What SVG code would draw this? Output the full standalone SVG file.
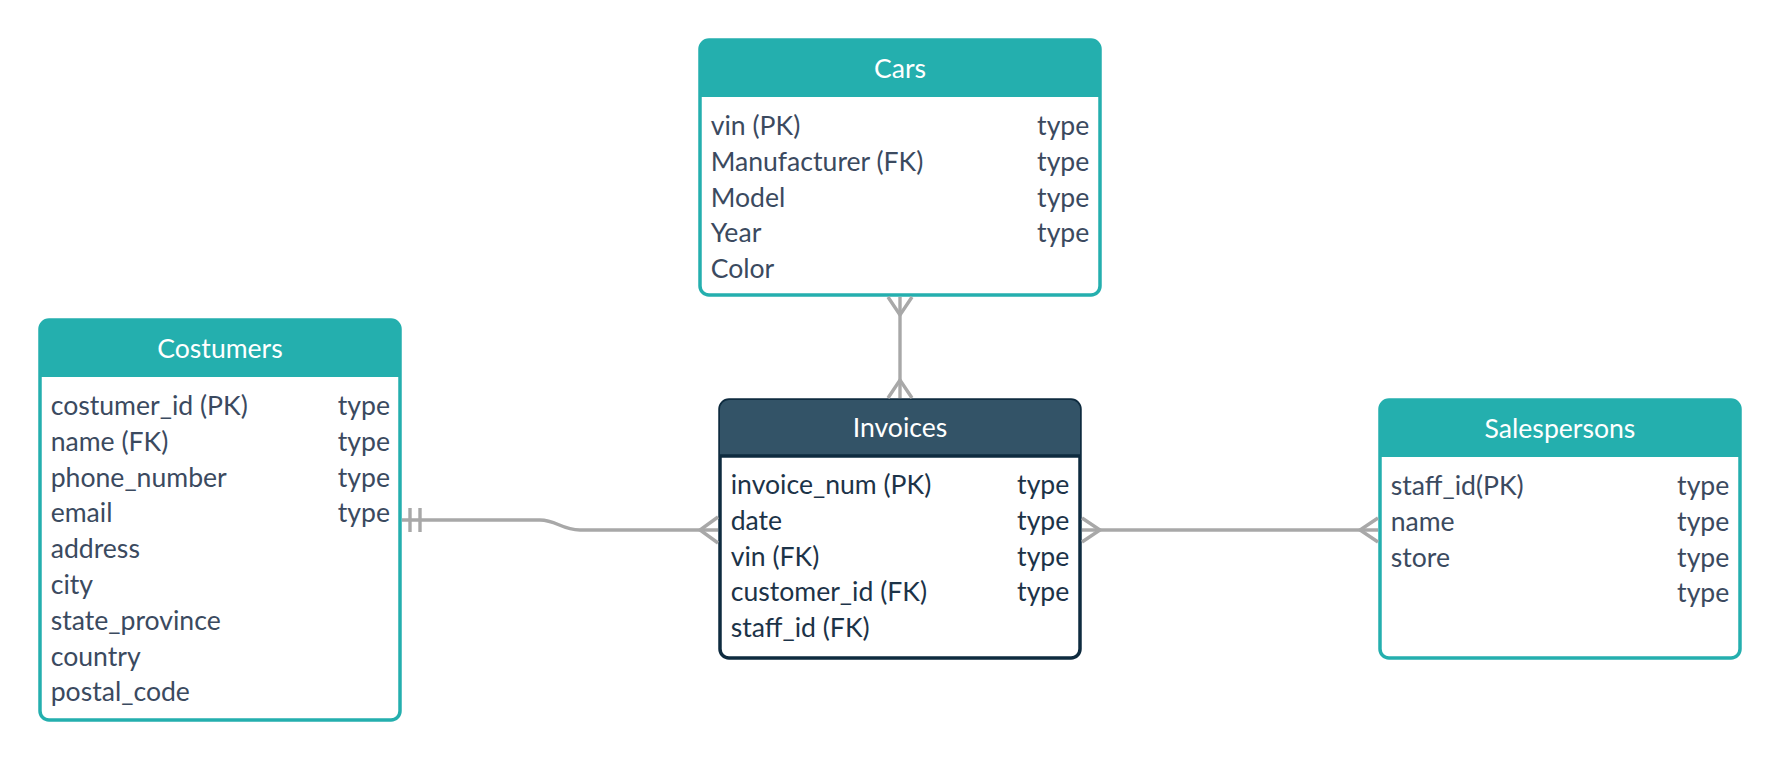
<svg xmlns="http://www.w3.org/2000/svg" width="1780" height="760" viewBox="0 0 1780 760">
<style>
.box{fill:#ffffff;stroke:#24AFAE;stroke-width:3.5}
.hdr{fill:#24AFAE}
.dbox{fill:#ffffff;stroke:#0E2B3F;stroke-width:3.5}
.dhdr{fill:#335367}
.title{font-family:Lato,"Open Sans",sans-serif;font-size:26.6px;fill:#ffffff;text-anchor:middle}
.row{font-family:Lato,"Open Sans",sans-serif;font-size:26.6px;fill:#3B4A5F}
.drow{font-family:Lato,"Open Sans",sans-serif;font-size:26.6px;fill:#1C3348}
.end{text-anchor:end}
.conn{fill:none;stroke:#A8A8A8;stroke-width:3.4;stroke-linecap:butt}
</style>
<rect width="1780" height="760" fill="#ffffff"/>

<g id="cars">
<rect class="box" x="700" y="40" width="400" height="255" rx="9"/>
<path class="hdr" d="M700 97 V49 A9 9 0 0 1 709 40 H1091 A9 9 0 0 1 1100 49 V97 Z"/>
<text class="title" x="900" y="78">Cars</text>
<text class="row" x="710.7" y="135">vin (PK)</text>
<text class="row end" x="1089.3" y="135">type</text>
<text class="row" x="710.7" y="170.8">Manufacturer (FK)</text>
<text class="row end" x="1089.3" y="170.8">type</text>
<text class="row" x="710.7" y="206.6">Model</text>
<text class="row end" x="1089.3" y="206.6">type</text>
<text class="row" x="710.7" y="242.4">Year</text>
<text class="row end" x="1089.3" y="242.4">type</text>
<text class="row" x="710.7" y="278.2">Color</text>
</g>

<g id="costumers">
<rect class="box" x="40" y="320" width="360" height="400" rx="9"/>
<path class="hdr" d="M40 377 V329 A9 9 0 0 1 49 320 H391 A9 9 0 0 1 400 329 V377 Z"/>
<text class="title" x="220" y="358">Costumers</text>
<text class="row" x="50.7" y="415">costumer_id (PK)</text>
<text class="row end" x="390" y="415">type</text>
<text class="row" x="50.7" y="450.8">name (FK)</text>
<text class="row end" x="390" y="450.8">type</text>
<text class="row" x="50.7" y="486.6">phone_number</text>
<text class="row end" x="390" y="486.6">type</text>
<text class="row" x="50.7" y="522.4">email</text>
<text class="row end" x="390" y="522.4">type</text>
<text class="row" x="50.7" y="558.2">address</text>
<text class="row" x="50.7" y="594">city</text>
<text class="row" x="50.7" y="629.8">state_province</text>
<text class="row" x="50.7" y="665.6">country</text>
<text class="row" x="50.7" y="701.4">postal_code</text>
</g>

<g id="invoices">
<rect class="dbox" x="720" y="400" width="360" height="258" rx="9"/>
<path class="dhdr" d="M720 456 V409 A9 9 0 0 1 729 400 H1071 A9 9 0 0 1 1080 409 V456 Z"/>
<line x1="720" y1="456" x2="1080" y2="456" stroke="#0E2B3F" stroke-width="3.5"/>
<text class="title" x="900" y="437">Invoices</text>
<text class="drow" x="730.7" y="494">invoice_num (PK)</text>
<text class="drow end" x="1069.3" y="494">type</text>
<text class="drow" x="730.7" y="529.8">date</text>
<text class="drow end" x="1069.3" y="529.8">type</text>
<text class="drow" x="730.7" y="565.6">vin (FK)</text>
<text class="drow end" x="1069.3" y="565.6">type</text>
<text class="drow" x="730.7" y="601.4">customer_id (FK)</text>
<text class="drow end" x="1069.3" y="601.4">type</text>
<text class="drow" x="730.7" y="637.2">staff_id (FK)</text>
</g>

<g id="salespersons">
<rect class="box" x="1380" y="400" width="360" height="258" rx="9"/>
<path class="hdr" d="M1380 457 V409 A9 9 0 0 1 1389 400 H1731 A9 9 0 0 1 1740 409 V457 Z"/>
<text class="title" x="1560" y="438">Salespersons</text>
<text class="row" x="1390.7" y="495">staff_id(PK)</text>
<text class="row end" x="1729.3" y="495">type</text>
<text class="row" x="1390.7" y="530.8">name</text>
<text class="row end" x="1729.3" y="530.8">type</text>
<text class="row" x="1390.7" y="566.6">store</text>
<text class="row end" x="1729.3" y="566.6">type</text>
<text class="row end" x="1729.3" y="602.4">type</text>
</g>

<g id="connectors">
<path class="conn" d="M402 520 H540 C556 520 562 530 580 530 H718"/>
<line class="conn" x1="410" y1="508" x2="410" y2="532" stroke-linecap="round"/>
<line class="conn" x1="420" y1="508" x2="420" y2="532" stroke-linecap="round"/>
<path class="conn" d="M718 517 L700 530 L718 543"/>

<path class="conn" d="M900 297 V398"/>
<path class="conn" d="M888 297 L900 315 L912 297"/>
<path class="conn" d="M888 398 L900 380 L912 398"/>

<path class="conn" d="M1082 530 H1378"/>
<path class="conn" d="M1082 518 L1100 530 L1082 542"/>
<path class="conn" d="M1378 518 L1360 530 L1378 542"/>
</g>
</svg>
